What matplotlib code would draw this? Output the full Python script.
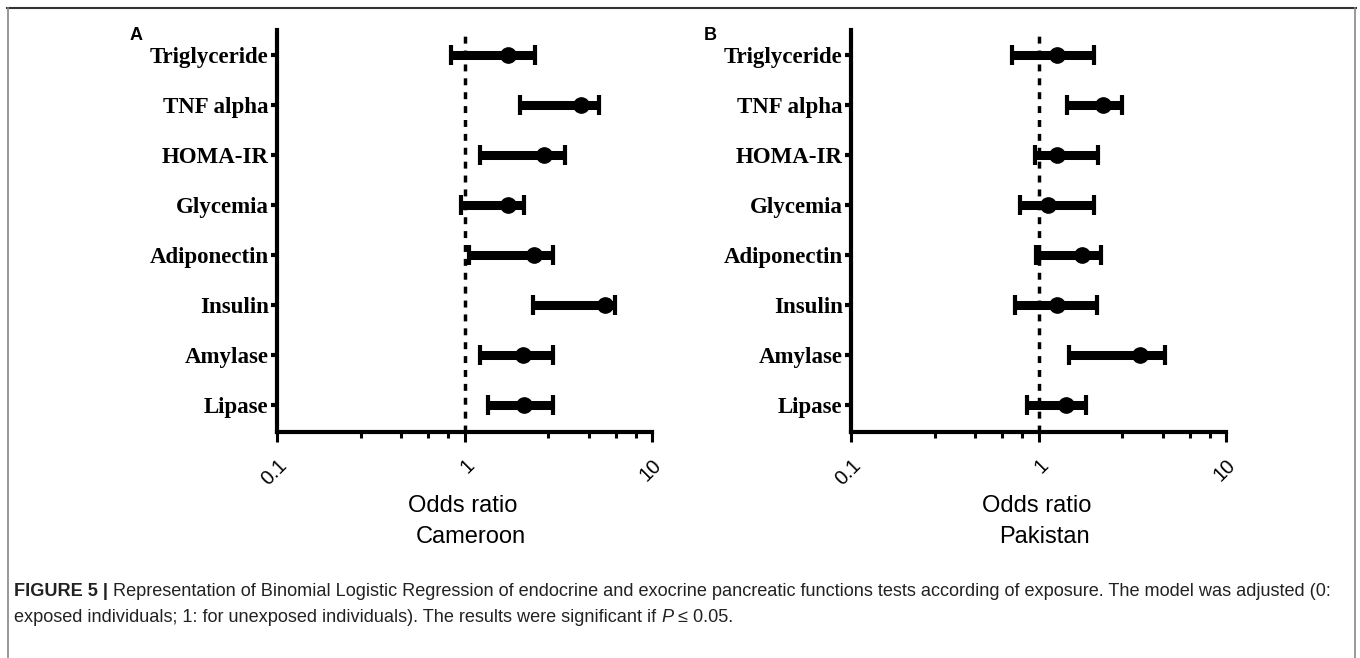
import matplotlib
matplotlib.use("Agg")
import matplotlib.pyplot as plt
import numpy as np

# ---------------- data ----------------
categories = ["Triglyceride", "TNF alpha", "HOMA-IR", "Glycemia",
              "Adiponectin", "Insulin", "Amylase", "Lipase"]

cam_or   = [1.70, 4.18, 2.64, 1.70, 2.36, 5.61, 2.06, 2.08]
cam_low  = [0.85, 1.98, 1.21, 0.96, 1.06, 2.33, 1.21, 1.33]
cam_high = [2.39, 5.20, 3.43, 2.07, 2.96, 6.37, 2.96, 2.96]

pak_or   = [1.25, 2.20, 1.25, 1.12, 1.70, 1.25, 3.48, 1.40]
pak_low  = [0.72, 1.42, 0.96, 0.80, 0.97, 0.75, 1.45, 0.87]
pak_high = [1.97, 2.80, 2.07, 1.97, 2.16, 2.04, 4.71, 1.79]

xtick_vals = [0.1, 1, 10]
xtick_labels = ["0.1", "1", "10"]
panel_letters = ["A", "B"]
countries = ["Cameroon", "Pakistan"]
xlabel = "Odds ratio"

caption_bold = "FIGURE 5 | "
caption_line1 = ("Representation of Binomial Logistic Regression of endocrine and exocrine "
                 "pancreatic functions tests according of exposure. The model was adjusted (0:")
caption_line2a = "exposed individuals; 1: for unexposed individuals). The results were significant if "
caption_line2b = "P"
caption_line2c = " \u2264 0.05."

W, H = 1360, 658
fig = plt.figure(figsize=(W / 100, H / 100), dpi=100)

narrow = ["Liberation Sans Narrow", "Liberation Sans", "DejaVu Sans"]
serif = ["Liberation Serif", "DejaVu Serif"]
sans = ["Liberation Sans", "DejaVu Sans"]

def px_x(x):
    return x / W

def px_y(y):
    return 1 - y / H

panels = [
    (277, cam_or, cam_low, cam_high),
    (851, pak_or, pak_low, pak_high),
]

minor = []
for base in [0.1, 1]:
    for k in range(1, 5):
        minor.append(base * (1 + 1.8 * k))

n = len(categories)
ypos = np.arange(n)[::-1]  # Triglyceride at top

for i, (left_px, orr, lo, hi) in enumerate(panels):
    ax_w = 375
    ax = fig.add_axes([px_x(left_px), px_y(432), ax_w / W, (432 - 30) / H])
    orr = np.array(orr); lo = np.array(lo); hi = np.array(hi)
    ax.set_xscale("log")
    ax.set_xlim(0.1, 10)
    ax.set_ylim(-0.54, n - 0.5)
    ax.axvline(1, color="black", lw=2.5, linestyle=(0, (2.0, 2.0)), zorder=1)
    ax.errorbar(orr, ypos, xerr=[orr - lo, hi - orr], fmt="o", color="black",
                ms=11, elinewidth=6.5, capsize=7, capthick=3, zorder=3)
    for s in ["top", "right"]:
        ax.spines[s].set_visible(False)
    for s in ["left", "bottom"]:
        ax.spines[s].set_linewidth(3)
    ax.set_yticks(ypos)
    ax.set_yticklabels(categories, family=serif, fontweight="bold", fontsize=16.5)
    ax.tick_params(axis="y", length=4, width=3, pad=2)
    ax.set_xticks(xtick_vals)
    ax.set_xticks(minor, minor=True)
    ax.xaxis.set_minor_formatter(matplotlib.ticker.NullFormatter())
    ax.set_xticklabels(xtick_labels, rotation=45, ha="right", va="top",
                       rotation_mode="anchor", family=sans, fontsize=14.5)
    ax.tick_params(axis="x", which="major", length=7, width=2.2, pad=10)
    ax.tick_params(axis="x", which="minor", length=4.5, width=2.2)
    ax.set_facecolor("none")

    center = left_px + ax_w / 2 - 2
    fig.text(px_x(center), px_y(506), xlabel, ha="center", va="center",
             family=narrow, fontsize=17)
    fig.text(px_x(center + 8), px_y(537), countries[i], ha="center", va="center",
             family=narrow, fontsize=17)
    fig.text(px_x(left_px - 147), px_y(35), panel_letters[i], ha="left", va="center",
             family=sans, fontweight="bold", fontsize=13)

# frame
fig.add_artist(plt.Line2D([px_x(7), px_x(1356)], [px_y(8), px_y(8)], color="#333333", lw=1.5))
fig.add_artist(plt.Line2D([px_x(8), px_x(8)], [px_y(8), px_y(658)], color="#888888", lw=1.2))
fig.add_artist(plt.Line2D([px_x(1355), px_x(1355)], [px_y(8), px_y(658)], color="#888888", lw=1.2))

# caption
fig.canvas.draw()
r = fig.canvas.get_renderer()
cap_size = 13.1
t1 = fig.text(px_x(14), px_y(591), caption_bold, ha="left", va="center",
              family=sans, fontweight="bold", fontsize=cap_size, color="#222222")
ext = t1.get_window_extent(r)
fig.text(ext.x1 / W, px_y(591), caption_line1, ha="left", va="center",
         family=sans, fontsize=cap_size, color="#222222")
t2 = fig.text(px_x(14), px_y(617), caption_line2a, ha="left", va="center",
              family=sans, fontsize=cap_size, color="#222222")
ext = t2.get_window_extent(r)
t3 = fig.text(ext.x1 / W, px_y(617), caption_line2b, ha="left", va="center",
              family=sans, fontstyle="italic", fontsize=cap_size, color="#222222")
ext = t3.get_window_extent(r)
fig.text(ext.x1 / W, px_y(617), caption_line2c, ha="left", va="center",
         family=sans, fontsize=cap_size, color="#222222")

fig.savefig("out.png", dpi=100)
